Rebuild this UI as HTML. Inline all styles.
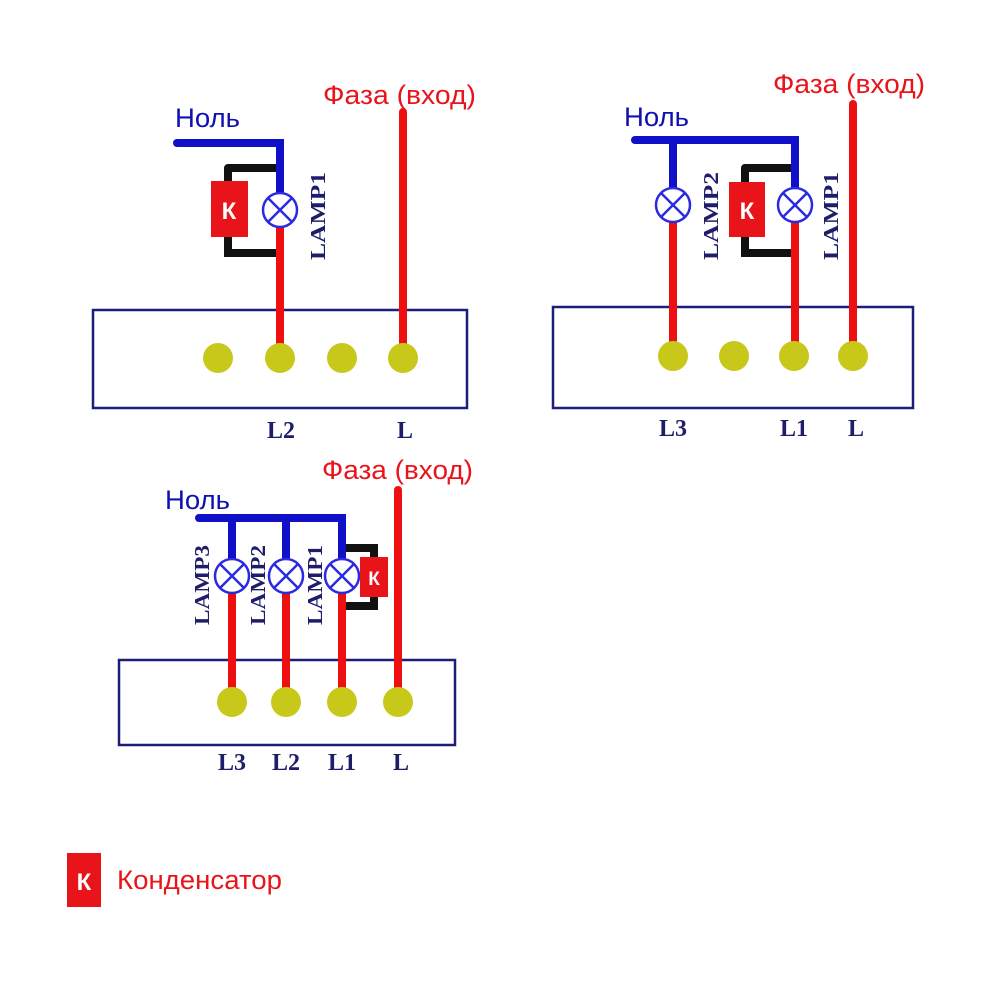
<!DOCTYPE html>
<html><head><meta charset="utf-8"><style>body{margin:0;background:#fff}svg{display:block}</style></head><body>
<svg width="1000" height="1000" viewBox="0 0 1000 1000" xmlns="http://www.w3.org/2000/svg" font-family="Liberation Sans, sans-serif">
<defs>
<g id="lamp"><circle r="17" fill="#fff" stroke="#2a2ae0" stroke-width="2.5"/><path d="M-12,-12L12,12M12,-12L-12,12" stroke="#2a2ae0" stroke-width="2.5"/></g>
</defs>
<g fill="none" stroke="#1d1d7a" stroke-width="2.5">
<rect x="93" y="310" width="374" height="98"/>
<rect x="553" y="307" width="360" height="101"/>
<rect x="119" y="660" width="336" height="85"/>
</g>
<g stroke-width="8" fill="none" stroke-linecap="round">
<path d="M228,168H278M228,168V253H278" stroke="#111"/>
<path d="M177,143H280V195" stroke="#1010c8"/>
<path d="M280,228V358M403,112V358" stroke="#ee1010"/>
<path d="M745,168H795M745,168V253H795" stroke="#111"/>
<path d="M635,140H795V190M673,140V190" stroke="#1010c8"/>
<path d="M673,222V357M795,222V357M853,104V357" stroke="#ee1010"/>
<path d="M342,548H374V606H342" stroke="#111"/>
<path d="M199,518H342V560M232,518V560M286,518V560" stroke="#1010c8"/>
<path d="M232,592V702M286,592V702M342,592V702M398,490V702" stroke="#ee1010"/>
</g>
<g fill="#c8c81a">
<circle cx="218" cy="358" r="15"/><circle cx="280" cy="358" r="15"/><circle cx="342" cy="358" r="15"/><circle cx="403" cy="358" r="15"/>
<circle cx="673" cy="356" r="15"/><circle cx="734" cy="356" r="15"/><circle cx="794" cy="356" r="15"/><circle cx="853" cy="356" r="15"/>
<circle cx="232" cy="702" r="15"/><circle cx="286" cy="702" r="15"/><circle cx="342" cy="702" r="15"/><circle cx="398" cy="702" r="15"/>
</g>
<use href="#lamp" x="280" y="210"/>
<use href="#lamp" x="673" y="205"/><use href="#lamp" x="795" y="205"/>
<use href="#lamp" x="232" y="576"/><use href="#lamp" x="286" y="576"/><use href="#lamp" x="342" y="576"/>
<g fill="#e8141a">
<rect x="211" y="181" width="37" height="56"/>
<rect x="729" y="182" width="36" height="55"/>
<rect x="360" y="557" width="28" height="40"/>
<rect x="67" y="853" width="34" height="54"/>
</g>
<g fill="#fff" font-size="24" font-weight="bold" text-anchor="middle">
<text x="229" y="219">К</text><text x="747" y="219">К</text><text x="374" y="585" font-size="19">К</text><text x="84" y="890">К</text>
</g>
<g fill="#e8141a" font-size="27">
<text x="323" y="104" textLength="153" lengthAdjust="spacingAndGlyphs">Фаза (вход)</text>
<text x="773" y="93" textLength="152" lengthAdjust="spacingAndGlyphs">Фаза (вход)</text>
<text x="322" y="479" textLength="151" lengthAdjust="spacingAndGlyphs">Фаза (вход)</text>
<text x="117" y="889" textLength="165" lengthAdjust="spacingAndGlyphs">Конденсатор</text>
</g>
<g fill="#1010b0" font-size="27">
<text x="175" y="127" textLength="65" lengthAdjust="spacingAndGlyphs">Ноль</text>
<text x="624" y="126" textLength="65" lengthAdjust="spacingAndGlyphs">Ноль</text>
<text x="165" y="509" textLength="65" lengthAdjust="spacingAndGlyphs">Ноль</text>
</g>
<g fill="#1d1d6a" font-family="Liberation Serif, serif" font-weight="bold" font-size="21">
<text transform="translate(325,260) rotate(-90)" textLength="88" lengthAdjust="spacingAndGlyphs">LAMP1</text>
<text transform="translate(718,260) rotate(-90)" textLength="88" lengthAdjust="spacingAndGlyphs">LAMP2</text>
<text transform="translate(838,260) rotate(-90)" textLength="88" lengthAdjust="spacingAndGlyphs">LAMP1</text>
<text transform="translate(209,625) rotate(-90)" textLength="80" lengthAdjust="spacingAndGlyphs">LAMP3</text>
<text transform="translate(265,625) rotate(-90)" textLength="80" lengthAdjust="spacingAndGlyphs">LAMP2</text>
<text transform="translate(322,625) rotate(-90)" textLength="80" lengthAdjust="spacingAndGlyphs">LAMP1</text>
<g font-size="24" text-anchor="middle">
<text x="281" y="438">L2</text><text x="405" y="438">L</text>
<text x="673" y="436">L3</text><text x="794" y="436">L1</text><text x="856" y="436">L</text>
<text x="232" y="770">L3</text><text x="286" y="770">L2</text><text x="342" y="770">L1</text><text x="401" y="770">L</text>
</g>
</g>
</svg>
</body></html>
